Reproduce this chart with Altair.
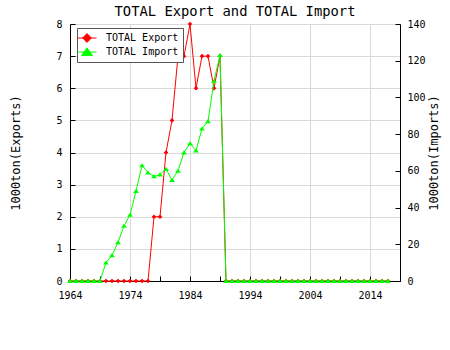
import altair as alt
import pandas as pd

years = [1964, 1965, 1966, 1967, 1968, 1969, 1970, 1971, 1972, 1973,
         1974, 1975, 1976, 1977, 1978, 1979, 1980, 1981, 1982, 1983,
         1984, 1985, 1986, 1987, 1988, 1989, 1990, 1991, 1992, 1993,
         1994, 1995, 1996, 1997, 1998, 1999, 2000, 2001, 2002, 2003,
         2004, 2005, 2006, 2007, 2008, 2009, 2010, 2011, 2012, 2013,
         2014, 2015, 2016, 2017]

export_vals = [0, 0, 0, 0, 0, 0, 0, 0, 0, 0,
               0, 0, 0, 0, 2, 2, 4, 5, 7, 7,
               8, 6, 7, 7, 6, 7, 0, 0, 0, 0,
               0, 0, 0, 0, 0, 0, 0, 0, 0, 0,
               0, 0, 0, 0, 0, 0, 0, 0, 0, 0,
               0, 0, 0, 0]

import_vals = [0, 0, 0, 0, 0, 0, 10, 14, 21, 30,
               36, 49, 63, 59, 57, 58, 61, 55, 60, 70,
               75, 71, 83, 87, 109, 123, 0, 0, 0, 0,
               0, 0, 0, 0, 0, 0, 0, 0, 0, 0,
               0, 0, 0, 0, 0, 0, 0, 0, 0, 0,
               0, 0, 0, 0]

series_names = ["TOTAL Export", "TOTAL Import"]
series_colors = ["#ff0000", "#00ff00"]

x_label_values = [1964, 1974, 1984, 1994, 2004, 2014]
x_tick_values = [1964, 1969, 1974, 1979, 1984, 1989, 1994, 1999, 2004, 2009, 2014, 2019]
left_tick_values = [0, 1, 2, 3, 4, 5, 6, 7, 8]
right_tick_values = [0, 20, 40, 60, 80, 100, 120, 140]

FONT = "DejaVu Sans Mono"

n = len(years)
df = pd.DataFrame({
    "year": years + years,
    "value": export_vals + import_vals,
    "series": [series_names[0]] * n + [series_names[1]] * n,
})

xscale = alt.Scale(domain=[1964, 2019], nice=False, zero=False)
lscale = alt.Scale(domain=[0, 8], nice=False)
rscale = alt.Scale(domain=[0, 140], nice=False)
color_scale = alt.Scale(domain=series_names, range=series_colors)
shape_paths = [
    "M-1.73,0H1.73M0,-0.8L0.8,0L0,0.8L-0.8,0Z",
    "M-1.73,0H1.73M0,-0.75L1,0.65L-1,0.65Z",
]
shape_scale = alt.Scale(domain=series_names, range=shape_paths)

leg = alt.Legend(
    orient="none", legendX=7, legendY=4, title=None, direction="vertical",
    symbolSize=121, symbolStrokeWidth=1, padding=4, labelOffset=13, rowPadding=0,
    strokeColor="#555555", fillColor="white",
    symbolStrokeColor="#000000", symbolFillColor="#000000",
    labelFont=FONT, labelFontSize=10, labelColor="black",
)

x_main_axis = alt.Axis(orient="bottom", values=x_label_values, format="d", grid=True, ticks=False,
                       tickSize=0, labelPadding=9, title=None, labelFlush=False, labelOverlap=False)
x_tick_axis = alt.Axis(orient="bottom", values=x_tick_values, labels=False, domain=False, grid=False,
                       ticks=True, tickSize=5, offset=-5, title=None)
left_main_axis = alt.Axis(orient="left", values=left_tick_values, grid=True, ticks=False, tickSize=0,
                          labelPadding=8, title="1000ton(Exports)", titleAngle=270, titleX=-55,
                          titleY=128.5, titleAlign="center", titleBaseline="middle")
left_tick_axis = alt.Axis(orient="left", values=left_tick_values, labels=False, domain=False, grid=False,
                          ticks=True, tickSize=5, offset=-5, title=None)
right_main_axis = alt.Axis(orient="right", values=right_tick_values, grid=False, ticks=False, tickSize=0,
                           labelPadding=7, title="1000ton(Imports)", titleAngle=270, titleX=33,
                           titleY=128.5, titleAlign="center", titleBaseline="middle")
right_tick_axis = alt.Axis(orient="right", values=right_tick_values, labels=False, domain=False, grid=False,
                           ticks=True, tickSize=5, offset=-5, title=None)

base = alt.Chart(df)
exp = base.transform_filter(alt.datum.series == series_names[0])
imp = base.transform_filter(alt.datum.series == series_names[1])

# legend-only layer (draws no marks)
l0 = base.transform_filter("false").mark_point(filled=True, strokeWidth=1, opacity=1).encode(
    color=alt.Color("series:N", scale=color_scale, legend=leg),
    stroke=alt.Stroke("series:N", scale=color_scale, legend=leg),
    shape=alt.Shape("series:N", scale=shape_scale, legend=leg),
)
l1 = exp.mark_line(strokeWidth=1).encode(
    x=alt.X("year:Q", scale=xscale, axis=x_main_axis),
    y=alt.Y("value:Q", scale=lscale, axis=left_main_axis),
    stroke=alt.Stroke("series:N", scale=color_scale, legend=None),
)
l2 = exp.mark_point(filled=True, opacity=1, size=34).encode(
    x=alt.X("year:Q", scale=xscale, axis=x_tick_axis),
    y=alt.Y("value:Q", scale=lscale, axis=left_tick_axis),
    color=alt.Color("series:N", scale=color_scale, legend=None),
    shape=alt.Shape("series:N", scale=shape_scale, legend=None),
)
l3 = imp.mark_line(strokeWidth=1).encode(
    x=alt.X("year:Q", scale=xscale, axis=None),
    y=alt.Y("value:Q", scale=rscale, axis=right_main_axis),
    stroke=alt.Stroke("series:N", scale=color_scale, legend=None),
)
l4 = imp.mark_point(filled=True, opacity=1, size=34).encode(
    x=alt.X("year:Q", scale=xscale, axis=None),
    y=alt.Y("value:Q", scale=rscale, axis=right_tick_axis),
    color=alt.Color("series:N", scale=color_scale, legend=None),
    shape=alt.Shape("series:N", scale=shape_scale, legend=None),
)

chart = alt.layer(l0, l1, l2, l3, l4).resolve_scale(
    y="independent", color="independent", stroke="independent", shape="independent"
).resolve_axis(
    x="independent", y="independent"
).properties(
    width=330, height=257,
    padding={"left": 70, "top": 24, "right": 50, "bottom": 69},
    autosize=alt.AutoSizeParams(type="none"),
    background="white",
    title=alt.TitleParams("TOTAL Export and TOTAL Import", font=FONT, fontSize=13.8,
                          fontWeight="normal", anchor="middle", offset=2.5, dy=13,
                          baseline="alphabetic", color="black"),
).configure_view(stroke=None).configure_axis(
    labelFont=FONT, titleFont=FONT, labelFontSize=10, titleFontSize=12,
    labelColor="black", titleColor="black", domainColor="black", tickColor="black",
    gridColor="#d9d9d9", titleFontWeight="normal", domainWidth=1, tickWidth=1, gridWidth=1,
)

chart.save("out.html", embed_options={"renderer": "svg", "actions": False})
